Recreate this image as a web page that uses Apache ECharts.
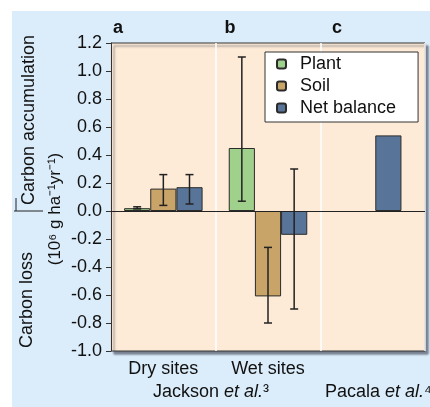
<!DOCTYPE html>
<html>
<head>
<meta charset="utf-8">
<script src="https://cdn.jsdelivr.net/npm/echarts@6/dist/echarts.min.js"></script>
<style>
  html, body { margin: 0; padding: 0; background: #fff; }
  #panel { position: absolute; left: 12px; top: 11px; width: 418px; height: 396px; background: #dbedfa; }
  #chart { position: absolute; left: 0; top: 0; width: 430px; height: 407px; }
</style>
</head>
<body>
<div id="panel"></div>
<div id="chart"></div>
<script>
// categories and values
const categories = ["Dry sites", "Wet sites", ""];
const plant = [0.02, 0.45, null];
const soil = [0.16, -0.61, null];
const netBalance = [0.17, -0.17, null];
const pacalaNet = [null, null, 0.54];
// error bars as [low, high]
const plantErr = [[0.015, 0.03], [0.07, 1.1], null];
const soilErr = [[0.04, 0.26], [-0.8, -0.26], null];
const netErr = [[0.05, 0.26], [-0.7, 0.3], null];
const yMin = -1.0, yMax = 1.2, yStep = 0.2;

const font = "'Liberation Sans', Arial, Helvetica, sans-serif";
const colors = { plant: "#a0d18c", soil: "#c9a469", net: "#587599" };
const edge = { borderColor: "#2b2b2b", borderWidth: 1 };

// one row per error bar: category index, low, high, slot (-1 plant, 0 soil, 1 net)
const errRows = [];
[plantErr, soilErr, netErr].forEach((arr, s) => {
  arr.forEach((e, i) => {
    if (e) errRows.push([i, e[0], e[1], s - 1]);
  });
});

const chart = echarts.init(document.getElementById("chart"));

chart.setOption({
  animation: false,
  grid: {
    left: 111, right: 5, top: 43, bottom: 56,
    show: true,
    backgroundColor: "#fdebd7",
    borderColor: "#333",
    borderWidth: 1,
    shadowColor: "rgba(40,40,60,0.55)",
    shadowBlur: 2,
    shadowOffsetX: 3,
    shadowOffsetY: 3,
  },
  legend: {
    data: ["Plant", "Soil", "Net balance"],
    orient: "vertical",
    left: 265,
    top: 52,
    padding: [3, 22, 5, 11],
    itemGap: 4,
    itemWidth: 9,
    itemHeight: 9,
    selectedMode: false,
    backgroundColor: "#fff",
    borderColor: "#333",
    borderWidth: 1,
    textStyle: { fontFamily: font, fontSize: 18, color: "#111", padding: [0, 0, 0, 9] },
  },
  xAxis: [
    {
      type: "category",
      data: categories,
      axisLine: { show: false, onZero: false },
      axisTick: { show: false },
      axisLabel: { margin: 9, fontFamily: font, fontSize: 18, color: "#111" },
      splitLine: { show: true, lineStyle: { color: "#fff", width: 1.5 } },
    },
    {
      // same bands, used only to place the Pacala bar
      type: "category",
      data: categories,
      show: false,
    },
  ],
  yAxis: {
    type: "value",
    min: yMin,
    max: yMax,
    interval: yStep,
    axisLine: { show: true, lineStyle: { color: "#333" } },
    axisTick: { show: true, length: 5, lineStyle: { color: "#333" } },
    axisLabel: {
      margin: 9,
      fontFamily: font,
      fontSize: 18,
      color: "#111",
      formatter: (v) => (Math.abs(v) < 1e-9 ? 0 : v).toFixed(1),
    },
    splitLine: { show: false },
  },
  series: [
    {
      name: "Plant",
      type: "bar",
      data: plant,
      barWidth: "25%",
      barGap: 0,
      itemStyle: { color: colors.plant, ...edge },
      markLine: {
        silent: true,
        symbol: "none",
        label: { show: false },
        lineStyle: { color: "#222", width: 1, type: "solid" },
        data: [{ yAxis: 0 }],
      },
    },
    {
      name: "Soil",
      type: "bar",
      data: soil,
      barWidth: "25%",
      barGap: 0,
      itemStyle: { color: colors.soil, ...edge },
    },
    {
      name: "Net balance",
      type: "bar",
      data: netBalance,
      barWidth: "25%",
      barGap: 0,
      itemStyle: { color: colors.net, ...edge },
    },
    {
      name: "spacer",
      type: "bar",
      xAxisIndex: 1,
      data: [null, null, null],
      barWidth: "25%",
      barGap: "20%",
    },
    {
      name: "Net balance",
      type: "bar",
      xAxisIndex: 1,
      data: pacalaNet,
      barWidth: "25%",
      barGap: "20%",
      itemStyle: { color: colors.net, ...edge },
    },
    {
      name: "errors",
      type: "custom",
      data: errRows,
      encode: { x: 0, y: [1, 2] },
      z: 5,
      renderItem: (params, api) => {
        const cat = api.value(0);
        const base = api.coord([cat, 0]);
        const bandW = api.size([1, 0])[0];
        const x = base[0] + api.value(3) * bandW * 0.25;
        const yLo = api.coord([cat, api.value(1)])[1];
        const yHi = api.coord([cat, api.value(2)])[1];
        const cap = 4;
        const st = { stroke: "#222", lineWidth: 1.5 };
        return {
          type: "group",
          children: [
            { type: "line", shape: { x1: x, y1: yLo, x2: x, y2: yHi }, style: st },
            { type: "line", shape: { x1: x - cap, y1: yLo, x2: x + cap, y2: yLo }, style: st },
            { type: "line", shape: { x1: x - cap, y1: yHi, x2: x + cap, y2: yHi }, style: st },
          ],
        };
      },
    },
  ],
  graphic: [
    { type: "text", x: 118, y: 28, style: { text: "a", font: "bold 18px " + font, fill: "#111", align: "center", verticalAlign: "middle" } },
    { type: "text", x: 230, y: 28, style: { text: "b", font: "bold 18px " + font, fill: "#111", align: "center", verticalAlign: "middle" } },
    { type: "text", x: 337, y: 28, style: { text: "c", font: "bold 18px " + font, fill: "#111", align: "center", verticalAlign: "middle" } },
    { type: "text", x: 29, y: 120, rotation: Math.PI / 2, style: { text: "Carbon accumulation", font: "18px " + font, fill: "#111", align: "center", verticalAlign: "middle" } },
    { type: "text", x: 27, y: 300, rotation: Math.PI / 2, style: { text: "Carbon loss", font: "18px " + font, fill: "#111", align: "center", verticalAlign: "middle" } },
    { type: "text", x: 55, y: 209, rotation: Math.PI / 2, style: { text: "(10⁶ g ha⁻¹yr⁻¹)", font: "17px " + font, fill: "#111", align: "center", verticalAlign: "middle" } },
    { type: "line", shape: { x1: 14, y1: 211, x2: 43, y2: 211 }, style: { stroke: "#222", lineWidth: 1 } },
    { type: "line", shape: { x1: 16, y1: 198, x2: 16, y2: 211 }, style: { stroke: "#222", lineWidth: 1 } },
    {
      type: "text", x: 211, y: 392,
      style: {
        text: "Jackson {i|et al.}³",
        font: "18px " + font, fill: "#111", align: "center", verticalAlign: "middle",
        rich: { i: { fontStyle: "italic", fontSize: 18, fontFamily: font, fill: "#111" } },
      },
    },
    {
      type: "text", x: 325, y: 392,
      style: {
        text: "Pacala {i|et al.}⁴",
        font: "18px " + font, fill: "#111", align: "left", verticalAlign: "middle",
        rich: { i: { fontStyle: "italic", fontSize: 18, fontFamily: font, fill: "#111" } },
      },
    },
  ],
});
</script>
</body>
</html>
